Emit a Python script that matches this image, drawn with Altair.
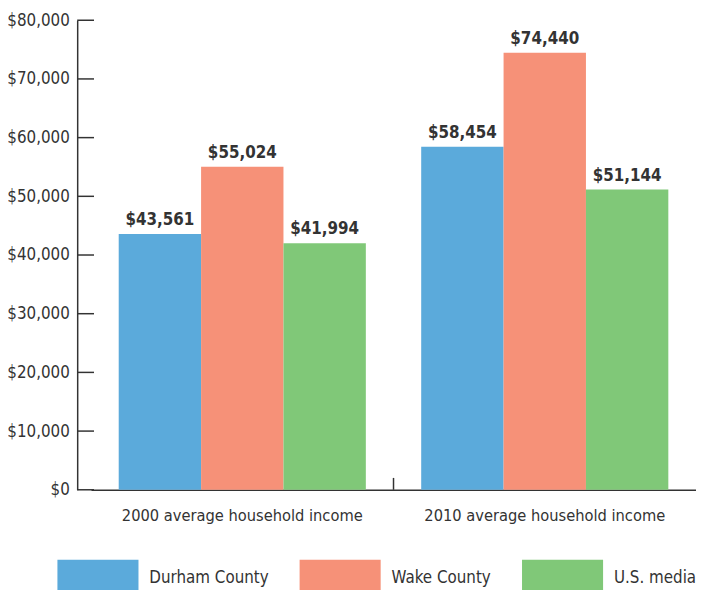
import altair as alt
import pandas as pd

categories = ["2000 average household income", "2010 average household income"]
series = ["Durham County", "Wake County", "U.S. median"]
durham = [43561, 58454]
wake = [55024, 74440]
us_median = [41994, 51144]
y_ticks = [0, 10000, 20000, 30000, 40000, 50000, 60000, 70000, 80000]
colors = ["#5BAADB", "#F69178", "#80C878"]

FONT = "DejaVu Sans Condensed, Liberation Sans, sans-serif"
TXT = "#333333"
FS = 17
W, H = 626, 475

rows = []
for s, vals in zip(series, [durham, wake, us_median]):
    for c, v in zip(categories, vals):
        rows.append({"category": c, "series": s, "value": v})
df = pd.DataFrame(rows)

x_scale = alt.Scale(range=[14, W], paddingInner=0, paddingOuter=0)
x_axis = alt.Axis(
    title=None, labelAngle=0, ticks=False, tickSize=0, domain=True,
    domainColor=TXT, domainWidth=1.5, labelPadding=18, labelFontSize=16.5,
    labelFont=FONT, labelColor=TXT, labelLimit=0,
)
y_scale = alt.Scale(domain=[0, 80000], nice=False)
y_axis = alt.Axis(
    title=None, values=y_ticks, format="$,.0f", ticks=False, grid=False,
    domainColor=TXT, domainWidth=1.5, labelPadding=8, labelFontSize=FS,
    labelFont=FONT, labelColor=TXT,
)

x_enc = alt.X("category:N", sort=categories, scale=x_scale, axis=x_axis)
xo_enc = alt.XOffset("series:N", sort=series,
                     scale=alt.Scale(paddingInner=0, paddingOuter=0.336))
y_enc = alt.Y("value:Q", scale=y_scale, axis=y_axis)

bars = alt.Chart(df).mark_bar().encode(
    x=x_enc,
    xOffset=xo_enc,
    y=y_enc,
    color=alt.Color(
        "series:N", sort=series,
        scale=alt.Scale(domain=series, range=colors),
        legend=alt.Legend(
            title=None, orient="none", legendX=-20, legendY=523,
            direction="horizontal", symbolType="M-1,-0.45H1V0.45H-1Z",
            symbolSize=6724, symbolStrokeWidth=0, symbolOpacity=1,
            labelFontSize=FS, labelFont=FONT, labelColor=TXT,
            labelOffset=11, columnPadding=31, padding=0, labelLimit=300,
        ),
    ),
)

labels = alt.Chart(df).mark_text(
    baseline="bottom", dy=-5, fontSize=FS, fontWeight="bold", font=FONT, color=TXT
).encode(
    x=x_enc,
    xOffset=xo_enc,
    y=y_enc,
    text=alt.Text("value:Q", format="$,.0f"),
)

ticks = alt.Chart(pd.DataFrame({"tick": y_ticks})).mark_rule(
    color=TXT, strokeWidth=1.5
).encode(
    y=alt.Y("tick:Q", scale=y_scale, axis=y_axis),
    x=alt.value(0),
    x2=alt.value(17),
)

boundary = alt.Chart(pd.DataFrame({"category": [categories[1]]})).mark_rule(
    color=TXT, strokeWidth=1.5
).encode(
    x=alt.X("category:N", sort=categories, bandPosition=0, scale=x_scale, axis=x_axis),
    y=alt.value(H - 12),
    y2=alt.value(H),
)

chart = alt.layer(bars, labels, ticks, boundary).properties(
    width=W, height=H,
    autosize=alt.AutoSizeParams(type="none"),
    padding={"left": 70, "top": 9, "right": 0, "bottom": 98},
).configure_view(stroke=None)

chart.save("out.html", embed_options={"renderer": "svg", "actions": False})
